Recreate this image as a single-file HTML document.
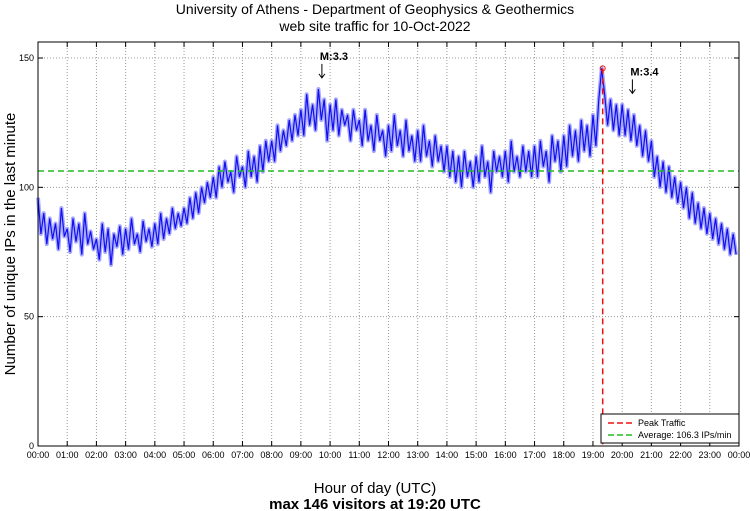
<!DOCTYPE html>
<html><head><meta charset="utf-8"><style>
body{margin:0;background:#fff;}
svg{display:block;font-family:"Liberation Sans",sans-serif;}
</style></head><body>
<svg id="chart" width="750" height="511" viewBox="0 0 750 511">
<text x="375" y="14" text-anchor="middle" font-size="14">University of Athens - Department of Geophysics &amp; Geothermics</text>
<text x="375" y="31" text-anchor="middle" font-size="14">web site traffic for 10-Oct-2022</text>
<text transform="translate(15,244) rotate(-90)" text-anchor="middle" font-size="15">Number of unique IPs in the last minute</text>
<text x="375" y="493" text-anchor="middle" font-size="15">Hour of day (UTC)</text>
<text x="375" y="509" text-anchor="middle" font-size="15" font-weight="bold">max 146 visitors at 19:20 UTC</text>
<g id="grid"></g><g id="series"></g><g id="axes"></g>
</svg>
<script>
const hourLabels=["00:00","01:00","02:00","03:00","04:00","05:00","06:00","07:00","08:00","09:00","10:00","11:00","12:00","13:00","14:00","15:00","16:00","17:00","18:00","19:00","20:00","21:00","22:00","23:00","00:00"];
const yTicks=[0,50,100,150];
const traffic=[
96,82,90,78,88,80,86,76,92,81,
84,75,88,79,86,74,90,78,83,76,
80,72,86,75,84,70,82,77,85,74,
84,76,88,78,82,75,87,79,84,77,
86,78,90,80,88,82,92,84,90,85,
92,86,96,88,98,90,100,94,102,96,
104,96,108,100,110,102,106,98,112,104,
108,100,114,104,112,102,116,106,118,110,
118,110,124,114,122,116,126,118,128,120,
130,120,136,124,132,122,138,126,134,118,
132,122,134,120,130,124,128,118,130,122,
126,116,130,118,124,114,128,118,122,112,
124,114,128,116,122,112,126,114,120,110,
122,110,124,112,118,108,120,110,116,106,
116,104,114,102,112,100,114,104,110,100,
112,102,116,104,110,98,114,106,112,104,
114,102,118,106,112,104,116,106,114,104,
116,104,118,108,114,102,120,110,118,106,
120,108,124,112,122,110,126,114,124,112,
128,116,134,146,136,124,134,122,132,120,
132,120,130,118,128,116,124,112,122,110,
118,104,112,100,110,98,108,96,104,94,
102,92,100,88,98,86,94,84,92,82,
90,80,88,78,86,76,84,74,82,74];
const averageValue=[106.3];
const peak=[19+20/60,146];
const quakes=[{label:"M:3.3",hour:9.72,value:140},{label:"M:3.4",hour:20.35,value:134}];

const NS="http://www.w3.org/2000/svg";
const L=38,R=739,T=42,B=446;
const X=h=>L+h*(R-L)/24;
const Y=v=>B-v*(B-58)/150;
function mk(tag,attrs,parent,text){const e=document.createElementNS(NS,tag);for(const k in attrs)e.setAttribute(k,attrs[k]);if(text!==undefined)e.textContent=text;parent.appendChild(e);return e;}
const grid=document.getElementById('grid'),series=document.getElementById('series'),axes=document.getElementById('axes');
hourLabels.forEach((lab,i)=>{
  const x=X(i);
  if(i>0&&i<24){const g=mk('line',{x1:x,y1:T,x2:x,y2:B,stroke:'#999','stroke-dasharray':'1,2','stroke-width':1},grid);
  
  }
  const t1=mk('line',{x1:x,y1:B,x2:x,y2:B-5,stroke:'#000'},axes);
  
  
  const t2=mk('line',{x1:x,y1:T,x2:x,y2:T+5,stroke:'#000'},axes);
  
  
  const tl=mk('text',{x:x,y:458,'text-anchor':'middle','font-size':9},axes,lab);
  
  
});
yTicks.forEach(v=>{
  const y=Y(v);
  if(v>0){const g=mk('line',{x1:L,y1:y,x2:R,y2:y,stroke:'#999','stroke-dasharray':'1,2'},grid);
  
  }
  const t=mk('line',{x1:L,y1:y,x2:L+5,y2:y,stroke:'#000'},axes);
  
  
  const t3=mk('line',{x1:R,y1:y,x2:R-5,y2:y,stroke:'#000'},axes);
  
  
  const tl=mk('text',{x:L-4,y:y+3,'text-anchor':'end','font-size':9},axes,String(v));
  
  
});
const pts=traffic.map((v,i)=>X(i*24/traffic.length).toFixed(1)+','+Y(v).toFixed(1)).join(' ');
const band=mk('polyline',{points:pts,fill:'none',stroke:'#a8a8ff','stroke-width':4,'stroke-linejoin':'round'},series);


const line=mk('polyline',{points:pts,fill:'none',stroke:'#1010ee','stroke-width':1.2},series);


const avg=mk('line',{x1:L,y1:Y(averageValue[0]),x2:R,y2:Y(averageValue[0]),stroke:'#22bb22','stroke-width':1.5,'stroke-dasharray':'6,4'},series);


const pk=mk('line',{x1:X(peak[0]),y1:Y(peak[1]),x2:X(peak[0]),y2:B,stroke:'#ee1111','stroke-width':1.5,'stroke-dasharray':'6,4'},series);


const pm=mk('circle',{cx:X(peak[0]),cy:Y(peak[1]),r:2.5,fill:'none',stroke:'#ee1111','stroke-width':1},series);


quakes.forEach(q=>{
  const x=X(q.hour),y=Y(q.value);
  const tx=mk('text',{x:x-2,y:y-24,'font-size':11,'font-weight':'bold'},series,q.label);
  
  
  const ar=mk('path',{d:`M${x},${y-20} L${x},${y-6} M${x-3},${y-10} L${x},${y-6} L${x+3},${y-10}`,stroke:'#000',fill:'none','stroke-width':1},series);
  
  
});
const frame=mk('rect',{x:L,y:T,width:R-L,height:B-T,fill:'none',stroke:'#000','stroke-width':1},axes);


const lg=mk('g',{},axes);


mk('rect',{x:601,y:414,width:138,height:29,fill:'#fff',stroke:'#000'},lg);
const e1=mk('line',{x1:608,y1:423,x2:633,y2:423,stroke:'#ee1111','stroke-width':1.5,'stroke-dasharray':'6,3'},lg);


const l1=mk('text',{x:638,y:426,'font-size':9},lg,'Peak Traffic');


const e2=mk('line',{x1:608,y1:435,x2:633,y2:435,stroke:'#22bb22','stroke-width':1.5,'stroke-dasharray':'6,3'},lg);


const l2=mk('text',{x:638,y:438,'font-size':9},lg,'Average: 106.3 IPs/min');


</script>
</body></html>
